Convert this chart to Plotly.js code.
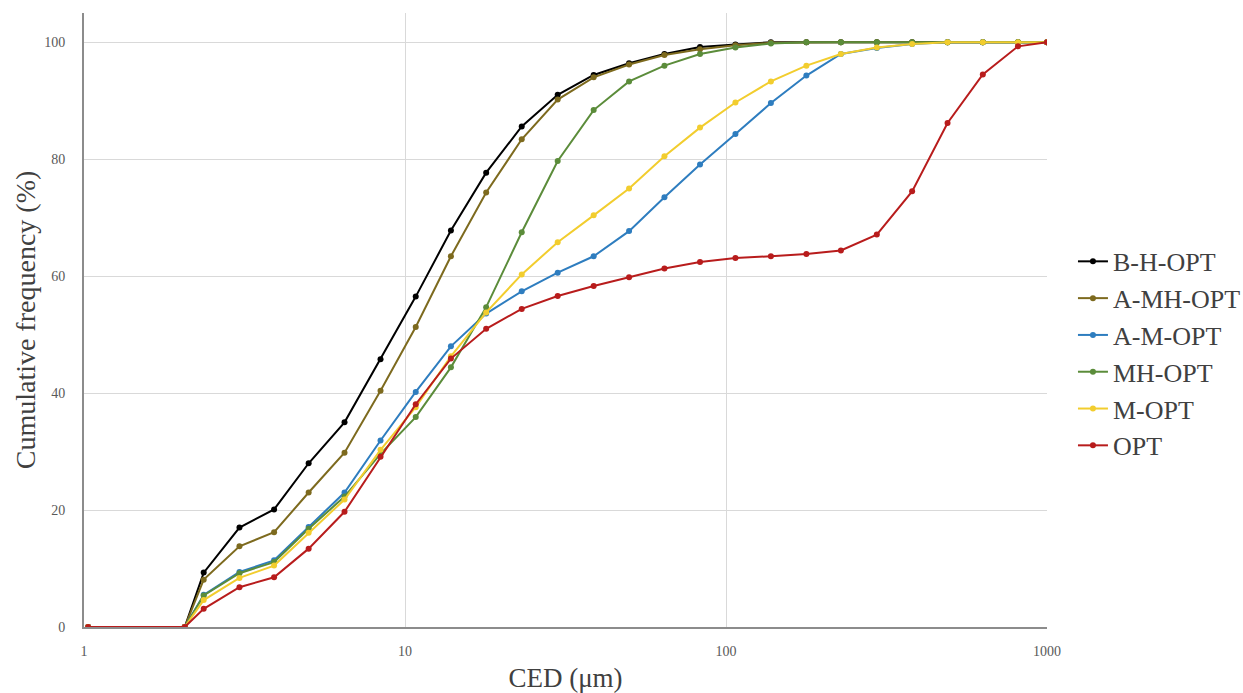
<!DOCTYPE html>
<html><head><meta charset="utf-8">
<script src="https://cdn.plot.ly/plotly-3.0.1.min.js"></script>
<style>html,body{margin:0;padding:0;background:#fff;}#chart{width:1243px;height:693px;}</style>
</head><body><div id="chart"></div>
<script>
const ced = [1.03, 2.06, 2.36, 3.05, 3.91, 5.01, 6.48, 8.39, 10.8, 13.9, 17.9, 23.1, 29.9, 38.7, 49.9, 64.3, 83, 107, 138, 178, 228, 295, 380, 490, 631, 812, 1000];
const seriesNames = ["B-H-OPT", "A-MH-OPT", "A-M-OPT", "MH-OPT", "M-OPT", "OPT"];
const bhOpt  = [0,0,9.3,17.0,20.1,28.0,35.0,45.8,56.5,67.8,77.7,85.6,91.0,94.4,96.4,98.0,99.2,99.6,100,100,100,100,100,100,100,100,100];
const amhOpt = [0,0,8.1,13.8,16.2,23.0,29.8,40.4,51.3,63.4,74.3,83.4,90.2,94.0,96.2,97.8,98.8,99.5,99.9,100,100,100,100,100,100,100,100];
const amOpt  = [0,0,5.5,9.4,11.4,17.1,23.0,31.9,40.2,48.0,53.6,57.4,60.6,63.4,67.7,73.5,79.1,84.3,89.6,94.3,98.0,99.0,99.7,100,100,100,100];
const mhOpt  = [0,0,5.4,9.2,11.1,16.8,22.3,29.6,35.9,44.4,54.7,67.5,79.7,88.4,93.3,96.0,98.0,99.1,99.8,100,100,100,100,100,100,100,100];
const mOpt   = [0,0,4.6,8.4,10.5,16.1,21.8,30.3,37.6,46.3,53.8,60.3,65.8,70.4,75.0,80.5,85.4,89.7,93.3,96.0,98.0,99.1,99.7,100,100,100,100];
const opt    = [0,0,3.1,6.8,8.5,13.4,19.7,29.1,38.1,45.9,51.0,54.4,56.6,58.3,59.8,61.3,62.4,63.1,63.4,63.8,64.4,67.1,74.5,86.2,94.5,99.3,100];
const xTicks = [1, 10, 100, 1000];
const yTicks = [0, 20, 40, 60, 80, 100];

const values = [bhOpt, amhOpt, amOpt, mhOpt, mOpt, opt];
const colors = ["#000000", "#7d6a1e", "#2e7dbf", "#5b8c3a", "#f2cd2e", "#b81c1c"];

const traces = values.map((v, i) => ({
  x: ced, y: v, name: seriesNames[i], type: "scatter", mode: "lines+markers",
  legendgroup: "g" + i,
  line: {color: colors[i], width: 2},
  marker: {color: colors[i], size: 6}
}));

const layout = {
  width: 1243, height: 693,
  margin: {l: 84, r: 196, t: 13, b: 66},
  paper_bgcolor: "#fff", plot_bgcolor: "#fff",
  font: {family: "Liberation Serif", color: "#404040"},
  showlegend: true,
  legend: {xref: "container", yref: "container", x: 0.8632, xanchor: "left", y: 0.49, yanchor: "middle",
    font: {family: "Liberation Serif", size: 26, color: "#404040"},
    tracegroupgap: 0, traceorder: "grouped", bgcolor: "rgba(0,0,0,0)"},
  xaxis: {type: "log", range: [0, 3], tickvals: xTicks, ticktext: xTicks.map(String),
    showgrid: true, gridcolor: "#d9d9d9", gridwidth: 1,
    showline: true, linecolor: "#8c8c8c", linewidth: 2, zeroline: false,
    ticks: "", ticklabelstandoff: 10,
    tickfont: {family: "Liberation Serif", size: 14, color: "#595959"},
    title: {text: "CED (μm)", font: {family: "Liberation Serif", size: 27, color: "#404040"}, standoff: 10}},
  yaxis: {range: [0, 105], tickvals: yTicks, ticktext: yTicks.map(String),
    showgrid: true, gridcolor: "#d9d9d9", gridwidth: 1,
    showline: true, linecolor: "#8c8c8c", linewidth: 2, zeroline: false,
    ticks: "", ticklabelstandoff: 14,
    tickfont: {family: "Liberation Serif", size: 14, color: "#595959"},
    title: {text: "Cumulative frequency (%)", font: {family: "Liberation Serif", size: 28, color: "#404040"}, standoff: 0}}
};

Plotly.newPlot("chart", traces, layout, {displayModeBar: false, staticPlot: true});
</script></body></html>
